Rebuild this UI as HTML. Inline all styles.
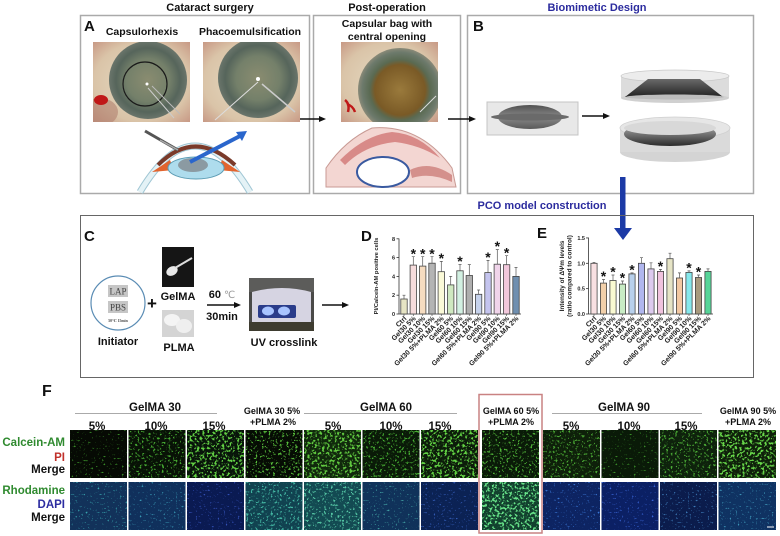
<!DOCTYPE html>
<html><head><meta charset="utf-8"><style>
html,body{margin:0;padding:0;background:#fff;}
svg{display:block;}
text{font-family:"Liberation Sans","DejaVu Sans",sans-serif;font-weight:bold;}
</style></head><body>
<svg width="780" height="536" viewBox="0 0 780 536" xmlns="http://www.w3.org/2000/svg">
<defs>
<radialGradient id="iris1" cx="50%" cy="50%" r="50%"><stop offset="0" stop-color="#8a8c70"/><stop offset=".55" stop-color="#74806a"/><stop offset=".82" stop-color="#56655b"/><stop offset="1" stop-color="#6a756b"/></radialGradient>
<radialGradient id="iris3" cx="50%" cy="50%" r="50%"><stop offset="0" stop-color="#9a7a3c"/><stop offset=".6" stop-color="#7a5a26"/><stop offset=".72" stop-color="#5a6a52"/><stop offset=".9" stop-color="#6d7a6c"/><stop offset="1" stop-color="#8a8a78"/></radialGradient>
<radialGradient id="scl" cx="50%" cy="50%" r="70%"><stop offset="0" stop-color="#e6dcc4"/><stop offset=".7" stop-color="#dac4a8"/><stop offset="1" stop-color="#c89a86"/></radialGradient>
<linearGradient id="lensg" x1="0" y1="0" x2="0" y2="1"><stop offset="0" stop-color="#505050"/><stop offset=".5" stop-color="#8a8a8a"/><stop offset="1" stop-color="#5a5a5a"/></linearGradient>
<linearGradient id="wedge" x1="0" y1="0" x2="0" y2="1"><stop offset="0" stop-color="#6a6a6a"/><stop offset="1" stop-color="#222"/></linearGradient>
<linearGradient id="lens2" x1="0" y1="0" x2="0" y2="1"><stop offset="0" stop-color="#bbb"/><stop offset=".6" stop-color="#666"/><stop offset="1" stop-color="#2a2a2a"/></linearGradient>
<filter id="d1" x="0" y="0" width="1" height="1" color-interpolation-filters="sRGB"><feTurbulence type="fractalNoise" baseFrequency="0.5" numOctaves="2" seed="3" result="n"/><feColorMatrix in="n" type="matrix" values="0 0 0 0 0  0 0 0 0 0  0 0 0 0 0  0 8 0 0 -5.3" result="m"/><feComposite in="SourceGraphic" in2="m" operator="in"/></filter>
<filter id="d2" x="0" y="0" width="1" height="1" color-interpolation-filters="sRGB"><feTurbulence type="fractalNoise" baseFrequency="0.45" numOctaves="2" seed="7" result="n"/><feColorMatrix in="n" type="matrix" values="0 0 0 0 0  0 0 0 0 0  0 0 0 0 0  0 8 0 0 -4.7" result="m"/><feComposite in="SourceGraphic" in2="m" operator="in"/></filter>
<filter id="d3" x="0" y="0" width="1" height="1" color-interpolation-filters="sRGB"><feTurbulence type="fractalNoise" baseFrequency="0.4" numOctaves="2" seed="11" result="n"/><feColorMatrix in="n" type="matrix" values="0 0 0 0 0  0 0 0 0 0  0 0 0 0 0  0 8 0 0 -4.2" result="m"/><feComposite in="SourceGraphic" in2="m" operator="in"/></filter>
<clipPath id="c1"><rect x="93" y="42" width="97" height="80"/></clipPath>
<clipPath id="c2"><rect x="203" y="42" width="97" height="80"/></clipPath>
<clipPath id="c3"><rect x="341" y="42" width="97" height="80"/></clipPath>
</defs>
<rect width="780" height="536" fill="#fff"/>

<text x="210" y="11" font-size="11" text-anchor="middle" fill="#111">Cataract surgery</text>
<text x="387" y="11" font-size="11" text-anchor="middle" fill="#111">Post-operation</text>
<text x="597" y="11" font-size="11" text-anchor="middle" fill="#2b2b9e">Biomimetic Design</text>

<rect x="80.5" y="15.5" width="229" height="178" fill="none" stroke="#aaa" stroke-width="1.5"/>
<rect x="313.5" y="15.5" width="147" height="178" fill="none" stroke="#aaa" stroke-width="1.5"/>
<rect x="467.5" y="15.5" width="286" height="178" fill="none" stroke="#aaa" stroke-width="1.5"/>

<text x="84" y="31" font-size="15" fill="#111">A</text>
<text x="142" y="35" font-size="10.5" text-anchor="middle" fill="#111">Capsulorhexis</text>
<text x="250" y="35" font-size="10.5" text-anchor="middle" fill="#111">Phacoemulsification</text>
<g clip-path="url(#c1)">
<rect x="93" y="42" width="97" height="80" fill="url(#scl)"/>
<ellipse cx="100" cy="112" rx="18" ry="14" fill="#b08070" opacity=".6"/>
<circle cx="148" cy="80" r="39" fill="url(#iris1)"/>
<circle cx="145" cy="84" r="22" fill="none" stroke="#1a1a1a" stroke-width="1.2"/>
<ellipse cx="101" cy="100" rx="7" ry="5" fill="#c01818"/>
<line x1="148" y1="88" x2="174" y2="118" stroke="#ccc" stroke-width="1"/>
<line x1="152" y1="86" x2="180" y2="114" stroke="#bbb" stroke-width="1"/>
<circle cx="147" cy="84" r="1.5" fill="#fff"/>
</g>
<g clip-path="url(#c2)">
<rect x="203" y="42" width="97" height="80" fill="url(#scl)"/>
<circle cx="258" cy="78" r="40" fill="url(#iris1)"/>
<line x1="258" y1="82" x2="215" y2="120" stroke="#ddd" stroke-width="1"/>
<line x1="262" y1="84" x2="295" y2="112" stroke="#ccc" stroke-width="1.5"/>
<circle cx="258" cy="79" r="2" fill="#fff"/>
</g>
<line x1="300" y1="119" x2="320" y2="119" stroke="#111" stroke-width="1.5"/>
<polygon points="319,116 326,119 319,122" fill="#111"/>
<path d="M140,192 Q195,100 250,192" fill="none" stroke="#9fc6d4" stroke-width="7"/>
<path d="M140,192 Q195,100 250,192" fill="none" stroke="#e4f2f6" stroke-width="5"/>
<path d="M158,165 Q195,128 235,165" fill="none" stroke="#7a3a2a" stroke-width="4"/>
<path d="M152,172 L170,160 L174,170 Z" fill="#e2642e"/>
<path d="M240,172 L222,160 L218,170 Z" fill="#e2642e"/>
<ellipse cx="196" cy="168" rx="28" ry="11" fill="#aedced" stroke="#5c9cb4" stroke-width="1"/>
<ellipse cx="193" cy="165" rx="15" ry="7" fill="#8b9aa2"/>
<line x1="190" y1="162" x2="240" y2="136" stroke="#2a66cc" stroke-width="4"/>
<polygon points="236,132 247,131 242,141" fill="#2a66cc"/>
<line x1="145" y1="131" x2="178" y2="150" stroke="#555" stroke-width="3"/>
<line x1="160" y1="140" x2="178" y2="150" stroke="#aaa" stroke-width="1.5"/>

<text x="387" y="27" font-size="10.5" text-anchor="middle" fill="#111">Capsular bag with</text>
<text x="387" y="40" font-size="10.5" text-anchor="middle" fill="#111">central opening</text>
<g clip-path="url(#c3)">
<rect x="341" y="42" width="97" height="80" fill="url(#scl)"/>
<circle cx="400" cy="90" r="42" fill="url(#iris3)"/>
<path d="M345,100 q5,4 3,12 M347,104 q6,2 8,8" stroke="#c01818" stroke-width="2.5" fill="none"/>
<line x1="420" y1="112" x2="436" y2="96" stroke="#ddd" stroke-width="1"/>
</g>
<path d="M326,187 L326,168 Q345,140 372,128 Q420,124 452,168 L456,187 Z" fill="#f3d6d2" stroke="#c89a94" stroke-width="1"/>
<path d="M340,160 Q365,135 392,132 Q420,134 440,158 Q420,145 395,142 Q365,145 345,165 Z" fill="#d88a88"/>
<path d="M410,170 Q430,160 452,175 L452,182 Q430,172 412,178 Z" fill="#d4908c"/>
<ellipse cx="383" cy="172" rx="26" ry="15" fill="#fff" stroke="#3a5aa0" stroke-width="2"/>
<line x1="448" y1="119" x2="470" y2="119" stroke="#111" stroke-width="1.5"/>
<polygon points="469,116 476,119 469,122" fill="#111"/>

<text x="473" y="31" font-size="15" fill="#111">B</text>
<rect x="487" y="102" width="91" height="33" fill="#e8e8e8" stroke="#c4c4c4" stroke-width="1"/>
<ellipse cx="530" cy="117" rx="32" ry="12" fill="url(#lensg)"/>
<ellipse cx="530" cy="117" rx="39" ry="3.5" fill="#6a6a6a"/>
<line x1="582" y1="116" x2="604" y2="116" stroke="#111" stroke-width="1.5"/>
<polygon points="603,113 610,116 603,119" fill="#111"/>
<rect x="621" y="76" width="108" height="22" fill="#dcdcdc"/>
<ellipse cx="675" cy="98" rx="54" ry="5" fill="#d0d0d0"/>
<ellipse cx="675" cy="76" rx="54" ry="6" fill="#ececec" stroke="#c8c8c8" stroke-width=".8"/>
<path d="M648,79 L700,79 L723,97 L625,97 Z" fill="url(#wedge)"/>
<ellipse cx="675" cy="97" rx="49" ry="2.5" fill="#bdbdbd"/>
<ellipse cx="675" cy="152" rx="55" ry="10" fill="#d4d4d4"/>
<rect x="620" y="128" width="110" height="24" fill="#dadada"/>
<ellipse cx="675" cy="128" rx="55" ry="11" fill="#e6e6e6" stroke="#cfcfcf" stroke-width=".8"/>
<ellipse cx="670" cy="134" rx="46" ry="12" fill="url(#lens2)"/>
<ellipse cx="670" cy="128" rx="46" ry="7" fill="#d8d8d8"/>
<rect x="620" y="177" width="5.5" height="52" fill="#1c3aa6"/>
<polygon points="614,228 632,228 623,240" fill="#1c3aa6"/>

<text x="542" y="209" font-size="11" text-anchor="middle" fill="#2b2b9e">PCO model construction</text>

<rect x="80.5" y="215.5" width="673" height="162" fill="none" stroke="#666" stroke-width="1"/>
<text x="84" y="241" font-size="15" fill="#111">C</text>
<circle cx="118" cy="303" r="27" fill="#fff" stroke="#5a8cb4" stroke-width="1.2"/>
<rect x="108" y="285" width="20" height="12" fill="#c6c6c6"/>
<text x="118" y="294.5" font-size="9" text-anchor="middle" fill="#444" style="font-family:'Liberation Serif',serif;font-weight:normal">LAP</text>
<rect x="108" y="301" width="20" height="12" fill="#c6c6c6"/>
<text x="118" y="310.5" font-size="9" text-anchor="middle" fill="#444" style="font-family:'Liberation Serif',serif;font-weight:normal">PBS</text>
<text x="118" y="322" font-size="3.8" text-anchor="middle" fill="#444" style="font-family:'Liberation Serif','DejaVu Serif',serif">50℃ 15min</text>
<text x="118" y="345" font-size="11" text-anchor="middle" fill="#111">Initiator</text>
<text x="152" y="309" font-size="17" text-anchor="middle" fill="#111">+</text>
<rect x="162" y="247" width="32" height="40" fill="#151515"/>
<ellipse cx="172" cy="271" rx="6" ry="4.5" fill="#e8e8e8" transform="rotate(-30 172 271)"/>
<line x1="175" y1="268" x2="192" y2="258" stroke="#ddd" stroke-width="2"/>
<text x="178" y="300" font-size="11" text-anchor="middle" fill="#111">GelMA</text>
<rect x="162" y="310" width="32" height="27" fill="#d4d4d4"/>
<ellipse cx="172" cy="320" rx="8" ry="6" fill="#f4f4f4"/>
<ellipse cx="184" cy="326" rx="8" ry="7" fill="#efefef"/>
<text x="179" y="351" font-size="11" text-anchor="middle" fill="#111">PLMA</text>
<text x="222" y="298" font-size="11" text-anchor="middle" fill="#111">60 <tspan fill="#999" style="font-weight:normal;font-family:'DejaVu Sans',sans-serif" font-size="10">℃</tspan></text>
<line x1="207" y1="305" x2="235" y2="305" stroke="#111" stroke-width="1.5"/>
<polygon points="234,302 241,305 234,308" fill="#111"/>
<text x="222" y="320" font-size="11" text-anchor="middle" fill="#111">30min</text>
<rect x="249" y="278" width="65" height="53" fill="#4a4a48"/>
<rect x="249" y="278" width="65" height="14" fill="#5c5c5a"/>
<path d="M252,292 Q282,284 311,292 L311,322 L252,322 Z" fill="#d6d4e2"/>
<rect x="258" y="305" width="38" height="13" rx="2" fill="#2a3c8a"/>
<ellipse cx="268" cy="311" rx="6" ry="4.5" fill="#a8c4ff"/>
<ellipse cx="284" cy="311" rx="6" ry="4.5" fill="#a8c4ff"/>
<rect x="249" y="322" width="65" height="9" fill="#3e3c30"/>
<text x="284" y="346" font-size="11" text-anchor="middle" fill="#111">UV crosslink</text>
<line x1="322" y1="305" x2="343" y2="305" stroke="#111" stroke-width="1.5"/>
<polygon points="342,302 349,305 342,308" fill="#111"/>
<text x="361" y="241" font-size="15" fill="#111">D</text>
<text x="537" y="238" font-size="15" fill="#111">E</text>

<g stroke="#333" stroke-width=".8" fill="none">
<line x1="399" y1="238.5" x2="399" y2="314"/>
<line x1="399" y1="314" x2="521" y2="314"/>
<line x1="396.5" y1="314" x2="399" y2="314"/><line x1="396.5" y1="295.2" x2="399" y2="295.2"/><line x1="396.5" y1="276.4" x2="399" y2="276.4"/><line x1="396.5" y1="257.6" x2="399" y2="257.6"/><line x1="396.5" y1="238.8" x2="399" y2="238.8"/>
</g>
<g font-size="5.5" text-anchor="end" fill="#222">
<text x="395" y="316">0</text><text x="395" y="297.2">2</text><text x="395" y="278.4">4</text><text x="395" y="259.6">6</text><text x="395" y="240.8">8</text>
</g>
<text transform="translate(378,276) rotate(-90)" font-size="5.8" text-anchor="middle" fill="#222">PI/Calcein-AM positive cells</text>
<g stroke="#444" stroke-width=".8">
<rect x="400.8" y="299.0" width="6.4" height="15.0" fill="#e6e4c4"/>
<rect x="410.1" y="265.1" width="6.4" height="48.9" fill="#f6dcdc"/>
<rect x="419.5" y="266.1" width="6.4" height="47.9" fill="#f6dcc0"/>
<rect x="428.8" y="263.2" width="6.4" height="50.8" fill="#b4b4b4"/>
<rect x="438.1" y="271.7" width="6.4" height="42.3" fill="#fbfad8"/>
<rect x="447.5" y="284.9" width="6.4" height="29.1" fill="#cfe8c0"/>
<rect x="456.8" y="270.8" width="6.4" height="43.2" fill="#d2f0e2"/>
<rect x="466.1" y="275.5" width="6.4" height="38.5" fill="#aeaeae"/>
<rect x="475.4" y="294.3" width="6.4" height="19.7" fill="#c6d2ec"/>
<rect x="484.8" y="272.6" width="6.4" height="41.4" fill="#c4c4ee"/>
<rect x="494.1" y="264.2" width="6.4" height="49.8" fill="#f0d4ea"/>
<rect x="503.4" y="264.7" width="6.4" height="49.3" fill="#f2c8dc"/>
<rect x="512.8" y="276.4" width="6.4" height="37.6" fill="#6f8fb0"/>
</g>
<g stroke="#555" stroke-width=".7" fill="none">
<path d="M404,299V295.2M402.5,295.2H405.5"/>
<path d="M413.3,265.1V256.7M411.8,256.7H414.8"/>
<path d="M422.7,266.1V256.7M421.2,256.7H424.2"/>
<path d="M432,263.2V256.7M430.5,256.7H433.5"/>
<path d="M441.3,271.7V261.4M439.8,261.4H442.8"/>
<path d="M450.7,284.9V276.4M449.2,276.4H452.2"/>
<path d="M460,270.8V264.6M458.5,264.6H461.5"/>
<path d="M469.3,275.5V264.6M467.8,264.6H470.8"/>
<path d="M478.6,294.3V290M477.1,290H480.1"/>
<path d="M488,272.6V260.4M486.5,260.4H489.5"/>
<path d="M497.3,264.2V249.6M495.8,249.6H498.8"/>
<path d="M506.6,264.7V255.7M505.1,255.7H508.1"/>
<path d="M516,276.4V267.5M514.5,267.5H517.5"/>
<path d="M404,314v2M413.3,314v2M422.7,314v2M432,314v2M441.3,314v2M450.7,314v2M460,314v2M469.3,314v2M478.6,314v2M488,314v2M497.3,314v2M506.6,314v2M516,314v2"/>
</g>
<g font-size="14" text-anchor="middle" fill="#111">
<text x="413.3" y="258.5">*</text><text x="422.7" y="258.5">*</text><text x="432" y="258.5">*</text><text x="441.3" y="263">*</text><text x="460" y="266.2">*</text><text x="488" y="262">*</text><text x="497.3" y="251.2">*</text><text x="506.6" y="257.3">*</text>
</g>
<g font-size="7" text-anchor="end" fill="#222">
<text transform="translate(407,319) rotate(-45)">Ctrl</text>
<text transform="translate(416.3,319) rotate(-45)">Gel30 5%</text>
<text transform="translate(425.7,319) rotate(-45)">Gel30 10%</text>
<text transform="translate(435,319) rotate(-45)">Gel30 15%</text>
<text transform="translate(444.3,319) rotate(-45)">Gel30 5%+PLMA 2%</text>
<text transform="translate(453.7,319) rotate(-45)">Gel60 5%</text>
<text transform="translate(463,319) rotate(-45)">Gel60 10%</text>
<text transform="translate(472.3,319) rotate(-45)">Gel60 15%</text>
<text transform="translate(481.6,319) rotate(-45)">Gel60 5%+PLMA 2%</text>
<text transform="translate(491,319) rotate(-45)">Gel90 5%</text>
<text transform="translate(500.3,319) rotate(-45)">Gel90 10%</text>
<text transform="translate(509.6,319) rotate(-45)">Gel90 15%</text>
<text transform="translate(519,319) rotate(-45)">Gel90 5%+PLMA 2%</text>
</g>

<g stroke="#333" stroke-width=".8" fill="none">
<line x1="588.5" y1="237.5" x2="588.5" y2="314"/>
<line x1="588.5" y1="314" x2="713" y2="314"/>
<line x1="586" y1="314" x2="588.5" y2="314"/><line x1="586" y1="288.65" x2="588.5" y2="288.65"/><line x1="586" y1="263.3" x2="588.5" y2="263.3"/><line x1="586" y1="237.95" x2="588.5" y2="237.95"/>
</g>
<g font-size="5.5" text-anchor="end" fill="#222">
<text x="585" y="316">0.0</text><text x="585" y="290.6">0.5</text><text x="585" y="265.3">1.0</text><text x="585" y="240">1.5</text>
</g>
<text transform="translate(564,276) rotate(-90)" font-size="6.4" text-anchor="middle" fill="#222">Intensity of ΔΨm levels</text>
<text transform="translate(571.5,276) rotate(-90)" font-size="6.4" text-anchor="middle" fill="#222">(ratio compared to control)</text>
<g stroke="#444" stroke-width=".8">
<rect x="590.9" y="263.3" width="6.2" height="50.7" fill="#f8e0e2"/>
<rect x="600.4" y="283.1" width="6.2" height="30.9" fill="#f2d0aa"/>
<rect x="609.9" y="280.5" width="6.2" height="33.5" fill="#fafad2"/>
<rect x="619.4" y="284.1" width="6.2" height="29.9" fill="#c8ecc4"/>
<rect x="628.9" y="273.9" width="6.2" height="40.1" fill="#b8d0ec"/>
<rect x="638.4" y="263.3" width="6.2" height="50.7" fill="#b0b6ee"/>
<rect x="647.9" y="268.9" width="6.2" height="45.1" fill="#dccaee"/>
<rect x="657.4" y="271.4" width="6.2" height="42.6" fill="#f0c2de"/>
<rect x="666.9" y="258.7" width="6.2" height="55.3" fill="#e6e4c6"/>
<rect x="676.4" y="278.0" width="6.2" height="36.0" fill="#f2c8a2"/>
<rect x="685.9" y="272.4" width="6.2" height="41.6" fill="#86e8ec"/>
<rect x="695.4" y="277.5" width="6.2" height="36.5" fill="#a89a7e"/>
<rect x="704.9" y="271.4" width="6.2" height="42.6" fill="#56d498"/>
</g>
<g stroke="#555" stroke-width=".7" fill="none">
<path d="M594,263.3V262.3M592.5,262.3H595.5"/>
<path d="M603.5,283.1V279.5M602,279.5H605"/>
<path d="M613,280.5V275M611.5,275H614.5"/>
<path d="M622.5,284.1V281M621,281H624"/>
<path d="M632,273.9V272.9M630.5,272.9H633.5"/>
<path d="M641.5,263.3V257.7M640,257.7H643"/>
<path d="M651,268.9V262.8M649.5,262.8H652.5"/>
<path d="M660.5,271.4V269.4M659,269.4H662"/>
<path d="M670,258.7V253.2M668.5,253.2H671.5"/>
<path d="M679.5,278V272.9M678,272.9H681"/>
<path d="M689,272.4V270.9M687.5,270.9H690.5"/>
<path d="M698.5,277.5V275M697,275H700"/>
<path d="M708,271.4V268.9M706.5,268.9H709.5"/>
<path d="M594,314v2M603.5,314v2M613,314v2M622.5,314v2M632,314v2M641.5,314v2M651,314v2M660.5,314v2M670,314v2M679.5,314v2M689,314v2M698.5,314v2M708,314v2"/>
</g>
<g font-size="14" text-anchor="middle" fill="#111">
<text x="603.5" y="281">*</text><text x="613" y="276.5">*</text><text x="622.5" y="282.5">*</text><text x="632" y="274.5">*</text><text x="660.5" y="271">*</text><text x="689" y="272.5">*</text><text x="698.5" y="276.5">*</text>
</g>
<g font-size="7" text-anchor="end" fill="#222">
<text transform="translate(597,319) rotate(-45)">Ctrl</text>
<text transform="translate(606.5,319) rotate(-45)">Gel30 5%</text>
<text transform="translate(616,319) rotate(-45)">Gel30 10%</text>
<text transform="translate(625.5,319) rotate(-45)">Gel30 15%</text>
<text transform="translate(635,319) rotate(-45)">Gel30 5%+PLMA 2%</text>
<text transform="translate(644.5,319) rotate(-45)">Gel60 5%</text>
<text transform="translate(654,319) rotate(-45)">Gel60 10%</text>
<text transform="translate(663.5,319) rotate(-45)">Gel60 15%</text>
<text transform="translate(673,319) rotate(-45)">Gel60 5%+PLMA 2%</text>
<text transform="translate(682.5,319) rotate(-45)">Gel90 5%</text>
<text transform="translate(692,319) rotate(-45)">Gel90 10%</text>
<text transform="translate(701.5,319) rotate(-45)">Gel90 15%</text>
<text transform="translate(711,319) rotate(-45)">Gel90 5%+PLMA 2%</text>
</g>

<text x="42" y="396" font-size="16" fill="#111">F</text>
<g font-size="11.5" text-anchor="middle" fill="#111">
<text x="155" y="411">GelMA 30</text>
<text x="386" y="411">GelMA 60</text>
<text x="624" y="411">GelMA 90</text>
<text x="97" y="430">5%</text><text x="156" y="430">10%</text><text x="214" y="430">15%</text>
<text x="333" y="430">5%</text><text x="391" y="430">10%</text><text x="440" y="430">15%</text>
<text x="571" y="430">5%</text><text x="629" y="430">10%</text><text x="686" y="430">15%</text>
</g>
<g font-size="9" text-anchor="middle" fill="#111">
<text x="272" y="414">GelMA 30 5%</text><text x="273" y="425">+PLMA 2%</text>
<text x="511" y="414">GelMA 60 5%</text><text x="511" y="425">+PLMA 2%</text>
<text x="748" y="414">GelMA 90 5%</text><text x="748" y="425">+PLMA 2%</text>
</g>
<g stroke="#aaa" stroke-width="1">
<line x1="75" y1="413.5" x2="217" y2="413.5"/>
<line x1="304" y1="413.5" x2="457" y2="413.5"/>
<line x1="552" y1="413.5" x2="702" y2="413.5"/>
</g>
<g font-size="11.5" text-anchor="end">
<text x="65" y="446" fill="#2f8a2f">Calcein-AM</text>
<text x="65" y="461" fill="#c0302a">PI</text>
<text x="65" y="473" fill="#111">Merge</text>
<text x="65" y="494" fill="#2f8a2f">Rhodamine</text>
<text x="65" y="508" fill="#2c2ca0">DAPI</text>
<text x="65" y="521" fill="#111">Merge</text>
</g>
<g>
<rect x="70" y="430" width="57" height="48" fill="#060a04"/><rect x="70" y="430" width="57" height="48" fill="#3e9a2c" filter="url(#d1)"/>
<rect x="128.5" y="430" width="57" height="48" fill="#081206"/><rect x="128.5" y="430" width="57" height="48" fill="#46aa32" filter="url(#d2)"/>
<rect x="187" y="430" width="57" height="48" fill="#08140a"/><rect x="187" y="430" width="57" height="48" fill="#62d044" filter="url(#d3)"/>
<rect x="245.5" y="430" width="57" height="48" fill="#060c04"/><rect x="245.5" y="430" width="57" height="48" fill="#58c03c" filter="url(#d2)"/>
<rect x="304" y="430" width="57" height="48" fill="#10280c"/><rect x="304" y="430" width="57" height="48" fill="#60c840" filter="url(#d3)"/>
<rect x="362.5" y="430" width="57" height="48" fill="#0a1a08"/><rect x="362.5" y="430" width="57" height="48" fill="#48b034" filter="url(#d2)"/>
<rect x="421" y="430" width="57" height="48" fill="#0c1c0a"/><rect x="421" y="430" width="57" height="48" fill="#62d244" filter="url(#d3)"/>
<rect x="482" y="430" width="57" height="48" fill="#0a1a08"/><rect x="482" y="430" width="57" height="48" fill="#52b83a" filter="url(#d2)"/>
<rect x="543" y="430" width="57" height="48" fill="#0e200a"/><rect x="543" y="430" width="57" height="48" fill="#4aa834" filter="url(#d2)"/>
<rect x="601.5" y="430" width="57" height="48" fill="#0a1a08"/><rect x="601.5" y="430" width="57" height="48" fill="#3e9a2c" filter="url(#d1)"/>
<rect x="660" y="430" width="57" height="48" fill="#0e220c"/><rect x="660" y="430" width="57" height="48" fill="#4cae36" filter="url(#d2)"/>
<rect x="718.5" y="430" width="57.5" height="48" fill="#0e200a"/><rect x="718.5" y="430" width="57.5" height="48" fill="#68d84a" filter="url(#d3)"/>
</g>
<g>
<rect x="70" y="482" width="57" height="48" fill="#12325a"/><rect x="70" y="482" width="57" height="48" fill="#38a8b0" filter="url(#d1)"/>
<rect x="128.5" y="482" width="57" height="48" fill="#10305c"/><rect x="128.5" y="482" width="57" height="48" fill="#3898b4" filter="url(#d1)"/>
<rect x="187" y="482" width="57" height="48" fill="#0a1a52"/><rect x="187" y="482" width="57" height="48" fill="#3a5ac8" filter="url(#d1)"/>
<rect x="245.5" y="482" width="57" height="48" fill="#114250"/><rect x="245.5" y="482" width="57" height="48" fill="#44b8a4" filter="url(#d2)"/>
<rect x="304" y="482" width="57" height="48" fill="#134a52"/><rect x="304" y="482" width="57" height="48" fill="#56c8a6" filter="url(#d2)"/>
<rect x="362.5" y="482" width="57" height="48" fill="#10325a"/><rect x="362.5" y="482" width="57" height="48" fill="#44a8a8" filter="url(#d1)"/>
<rect x="421" y="482" width="57" height="48" fill="#0b2254"/><rect x="421" y="482" width="57" height="48" fill="#3a66c8" filter="url(#d1)"/>
<rect x="482" y="482" width="57" height="48" fill="#12402e"/><rect x="482" y="482" width="57" height="48" fill="#68e48a" filter="url(#d3)"/>
<rect x="543" y="482" width="57" height="48" fill="#0d2462"/><rect x="543" y="482" width="57" height="48" fill="#3a78d8" filter="url(#d1)"/>
<rect x="601.5" y="482" width="57" height="48" fill="#0b2064"/><rect x="601.5" y="482" width="57" height="48" fill="#3a66d8" filter="url(#d1)"/>
<rect x="660" y="482" width="57" height="48" fill="#0b1c4c"/><rect x="660" y="482" width="57" height="48" fill="#4488c8" filter="url(#d1)"/>
<rect x="718.5" y="482" width="57.5" height="48" fill="#0f3262"/><rect x="718.5" y="482" width="57.5" height="48" fill="#44a4c4" filter="url(#d1)"/>
</g>
<line x1="767" y1="527" x2="774" y2="527" stroke="#fff" stroke-width="1"/>
<rect x="479" y="394.5" width="63" height="138.5" fill="none" stroke="#c98282" stroke-width="1.5"/>
</svg>
</body></html>
